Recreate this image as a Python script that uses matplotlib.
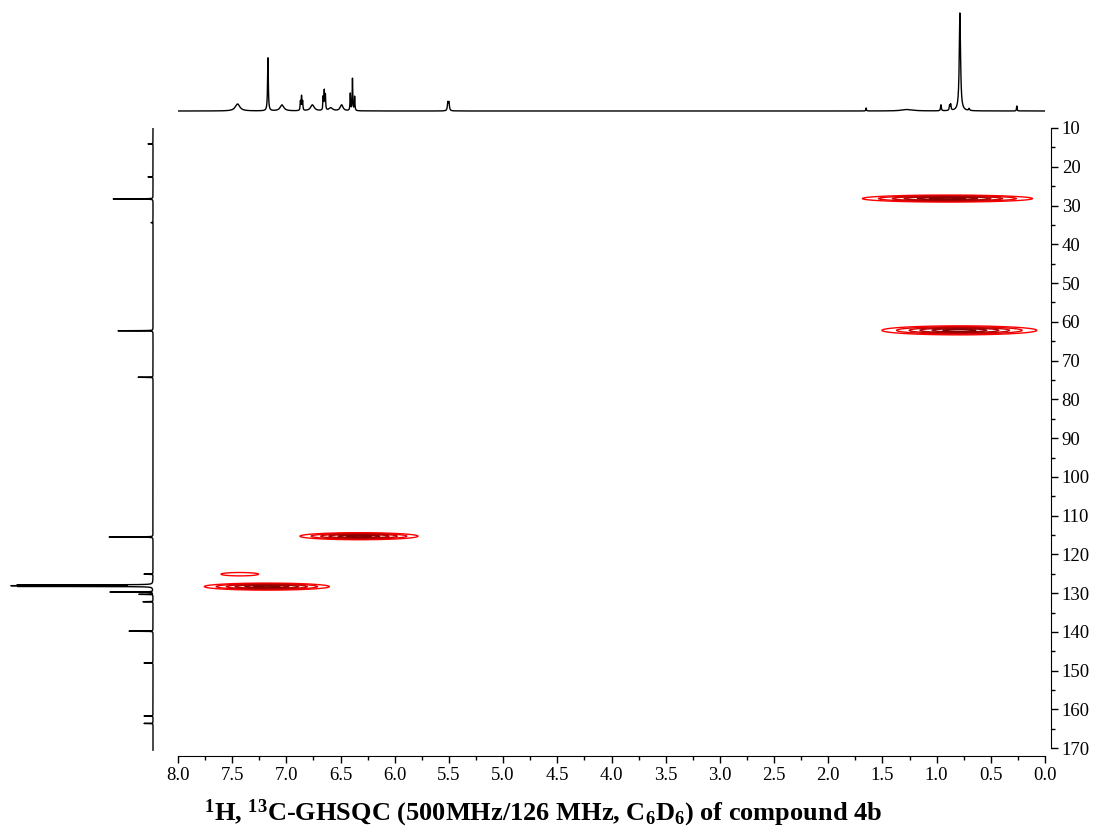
import matplotlib.pyplot as plt
import numpy as np

plt.rcParams['font.family'] = 'Liberation Serif'
plt.rcParams['mathtext.fontset'] = 'custom'
plt.rcParams['mathtext.rm'] = 'Liberation Serif:bold'
plt.rcParams['mathtext.it'] = 'Liberation Serif:bold'
plt.rcParams['mathtext.bf'] = 'Liberation Serif:bold'

# 1H projection: shift (ppm), height, half width (ppm)
h_shift = [7.45, 7.17, 7.04, 6.87, 6.86, 6.85, 6.76, 6.66, 6.65, 6.64, 6.59, 6.49,
           6.41, 6.39, 6.37, 5.51, 5.50, 1.65, 1.27, 0.96, 0.88, 0.87, 0.785, 0.70, 0.26]
h_height = [7, 53, 6, 9, 14, 9, 6, 13, 19, 15, 3, 6,
            17, 32, 14, 8, 8, 3, 1.5, 6, 5, 6, 98, 2, 5]
h_width = [0.025, 0.004, 0.02, 0.003, 0.003, 0.003, 0.02, 0.003, 0.003, 0.003, 0.02, 0.015,
           0.003, 0.003, 0.003, 0.005, 0.005, 0.003, 0.06, 0.004, 0.004, 0.004, 0.007, 0.005, 0.003]

# 13C projection: shift (ppm), height
c_shift = [14.1, 22.6, 28.3, 34.4, 62.3, 74.3, 115.5, 125.1, 127.87, 128.06, 128.25,
           129.7, 130.3, 132.2, 139.8, 148.0, 161.7, 163.6]
c_height = [5, 5, 40, 2, 35, 15, 44, 9, 132, 136, 132,
            43, 14, 10, 24, 9, 9, 9]

# HSQC cross peaks: 1H shift, 13C shift, amplitude, widths (ppm)
x_h = [0.90, 0.79, 6.33, 7.18, 7.43]
x_c = [28.2, 62.2, 115.3, 128.3, 125.1]
x_amp = [1.0, 1.0, 1.0, 1.0, 0.13]
x_sh = [0.366, 0.333, 0.254, 0.269, 0.24]
x_sc = [0.42, 0.54, 0.42, 0.42, 0.6]

levels = [0.1, 0.22, 0.38, 0.55, 0.75, 0.9]
level_colors = ['#ff0000', '#e60000', '#cc0000', '#b00000', '#990000', '#880000']

fig = plt.figure(figsize=(10.94, 8.36), dpi=100)

# main 2D panel
ax = fig.add_axes([178/1094, 1-756/836, 867/1094, 628/836])
hx = np.linspace(0, 8, 1400)
cy = np.linspace(10, 172, 1800)
X, Y = np.meshgrid(hx, cy)
Z = np.zeros_like(X)
for h, c, a, sh, sc in zip(x_h, x_c, x_amp, x_sh, x_sc):
    Z += a*np.exp(-(X-h)**2/(2*sh**2) - (Y-c)**2/(2*sc**2))
ax.contour(X, Y, Z, levels=levels, colors=level_colors, linewidths=1.0)
ax.set_xlim(8, 0)
ax.set_ylim(172, 10)
ax.set_xticks(np.arange(0, 8.01, 0.5))
ax.set_xticks(np.arange(0.25, 8, 0.5), minor=True)
ax.set_xticklabels(['%.1f' % v for v in np.arange(0, 8.01, 0.5)])
ax.set_yticks(np.arange(10, 171, 10))
ax.set_yticks(np.arange(15, 170, 10), minor=True)
ax.yaxis.tick_right()
ax.spines['left'].set_visible(False)
ax.spines['top'].set_visible(False)
ax.spines['right'].set_bounds(10, 170)
ax.spines['right'].set_position(('outward', 4))
ax.tick_params(which='major', length=5, width=1, labelsize=13.5, pad=3)
ax.tick_params(which='minor', length=3, width=1)

# 1H trace on top
axh = fig.add_axes([178/1094, 1-112/836, 867/1094, 104/836])
h_ppm = np.linspace(0, 8, 16000)
h_spec = np.zeros_like(h_ppm)
for p, a, w in zip(h_shift, h_height, h_width):
    h_spec += a*w**2/((h_ppm-p)**2 + w**2)
axh.plot(h_ppm, h_spec, 'k', lw=1.0)
axh.set_xlim(8, 0)
axh.set_ylim(-1, 103)
axh.axis('off')

# 13C trace on the left
axc = fig.add_axes([8/1094, 1-756/836, 146/1094, 628/836])
c_ppm = np.linspace(10, 170.5, 32000)
c_spec = np.zeros_like(c_ppm)
for p, a in zip(c_shift, c_height):
    c_spec += a*0.03**2/((c_ppm-p)**2 + 0.03**2)
axc.plot(c_spec, c_ppm, 'k', lw=1.0)
axc.set_ylim(172, 10)
axc.set_xlim(145, -1)
axc.axis('off')

fig.text(0.496, 1-813/836,
         r'$^{1}$H, $^{13}$C-GHSQC (500MHz/126 MHz, C$_{6}$D$_{6}$) of compound 4b',
         ha='center', va='center', fontsize=19, fontweight='bold')

plt.savefig('out.png', dpi=100)
